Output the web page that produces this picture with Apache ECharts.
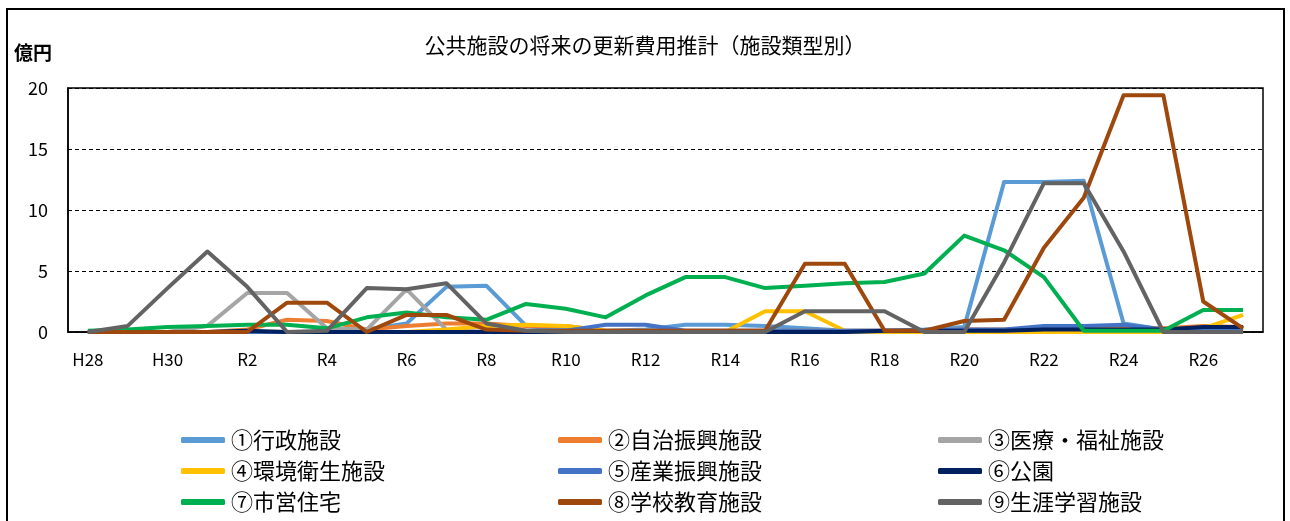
<!DOCTYPE html>
<html>
<head>
<meta charset="utf-8">
<script src="https://cdn.jsdelivr.net/npm/echarts@6/dist/echarts.min.js"></script>
<style>
html,body{margin:0;padding:0;background:#fff;}
#c{width:1290px;height:521px;}
</style>
</head>
<body>
<div id="c"></div>
<script>
const categories = ['H28','H29','H30','R1','R2','R3','R4','R5','R6','R7','R8','R9','R10','R11','R12','R13','R14','R15','R16','R17','R18','R19','R20','R21','R22','R23','R24','R25','R26','R27'];
const yTicks = [0, 5, 10, 15, 20];
const title = '公共施設の将来の更新費用推計（施設類型別）';
const unitLabel = '億円';

const s1_gyosei   = [0,0,0,0,0,0,0,0.2,0.7,3.7,3.8,0.5,0.2,0.1,0.2,0.6,0.6,0.5,0.3,0.1,0.1,0.2,0.4,12.3,12.3,12.4,0.7,0.2,0.3,0.3];
const s2_jichi    = [0,0,0,0,0.2,1.0,0.9,0.2,0.5,0.7,0.7,0.5,0.5,0.1,0.1,0.1,0.1,0.1,0.1,0.1,0.1,0.1,0.2,0.2,0.3,0.3,0.3,0.3,0.5,0.4];
const s3_iryo     = [0,0,0,0.5,3.2,3.2,0.3,0.2,3.5,0.2,0,0,0,0,0,0,0,0,0,0,0,0,0,0,0,0,0,0,0,0];
const s4_kankyo   = [0,0,0,0,0,0,0,0,0,0.2,0.5,0.6,0.5,0.1,0,0,0,1.7,1.7,0.1,0,0,0,0,0,0,0,0,0.3,1.4];
const s5_sangyo   = [0,0,0,0,0,0,0,0,0,0,0,0.1,0.1,0.6,0.6,0.1,0.1,0.1,0.1,0.1,0.1,0.1,0.2,0.2,0.5,0.5,0.6,0.2,0.3,0.3];
const s6_koen     = [0,0,0,0,0.1,0,0,0,0,0,0,0,0,0,0,0,0,0,0,0,0.1,0.1,0.1,0.1,0.2,0.2,0.2,0.2,0.4,0.4];
const s7_shiei    = [0.1,0.2,0.4,0.5,0.6,0.6,0.3,1.2,1.6,1.2,1.0,2.3,1.9,1.2,3.0,4.5,4.5,3.6,3.8,4.0,4.1,4.8,7.9,6.7,4.5,0.1,0.1,0.1,1.8,1.8];
const s8_gakko    = [0,0,0,0,0,2.4,2.4,0,1.4,1.4,0.2,0.1,0.1,0.1,0.1,0.1,0.1,0.1,5.6,5.6,0.1,0.1,0.9,1.0,6.9,11.0,19.4,19.4,2.5,0.3];
const s9_shogai   = [0,0.5,3.6,6.6,3.7,0,0.1,3.6,3.5,4.0,0.7,0.1,0,0,0,0,0,0,1.7,1.7,1.7,0,0,5.7,12.2,12.2,6.6,0,0,0];

const seriesNames = ['①行政施設','②自治振興施設','③医療・福祉施設','④環境衛生施設','⑤産業振興施設','⑥公園','⑦市営住宅','⑧学校教育施設','⑨生涯学習施設'];
const seriesData = [s1_gyosei,s2_jichi,s3_iryo,s4_kankyo,s5_sangyo,s6_koen,s7_shiei,s8_gakko,s9_shogai];
const colors = ['#5B9BD5','#ED7D31','#A5A5A5','#FFC000','#4472C4','#002060','#00B050','#9E480E','#636363'];

const FONT = '"Noto Sans CJK JP", "Noto Sans", sans-serif';
const chart = echarts.init(document.getElementById('c'), null, {renderer:'canvas'});

function legendCol(names, left){
  return {
    orient:'vertical', left:left, top:424,
    itemWidth:44, itemHeight:6, itemGap:9,
    icon:'roundRect',
    data:names,
    textStyle:{fontFamily:FONT, fontSize:22, color:'#000', padding:[0,0,0,1]}
  };
}

chart.setOption({
  animation:false,
  color:colors,
  title:{
    text:title, left:'center', top:30,
    textStyle:{fontFamily:FONT, fontSize:21, fontWeight:'normal', color:'#000'}
  },
  graphic:[
    {type:'rect', shape:{x:7,y:9,width:1277,height:540}, style:{fill:null, stroke:'#000', lineWidth:2}, silent:true},
    {type:'text', left:14, top:43, style:{text:unitLabel, font:'bold 19px ' + FONT, fill:'#000'}}
  ],
  legend:[
    legendCol([seriesNames[0],seriesNames[3],seriesNames[6]], 176),
    legendCol([seriesNames[1],seriesNames[4],seriesNames[7]], 553),
    legendCol([seriesNames[2],seriesNames[5],seriesNames[8]], 933)
  ],
  grid:{left:68, top:88, right:27, bottom:189, show:true, borderColor:'#000', borderWidth:1.5, backgroundColor:'transparent'},
  xAxis:{
    type:'category', data:categories, boundaryGap:true,
    axisLine:{show:true, lineStyle:{color:'#000', width:1.5}},
    axisTick:{show:false},
    axisLabel:{interval:1, fontFamily:FONT, fontSize:17, color:'#000', margin:19}
  },
  yAxis:{
    type:'value', min:yTicks[0], max:yTicks[yTicks.length-1], interval:5,
    axisLine:{show:true, lineStyle:{color:'#000', width:1.5}},
    axisTick:{show:false},
    axisLabel:{fontFamily:FONT, fontSize:18, color:'#000', margin:20},
    splitLine:{show:true, lineStyle:{color:'#000', type:[4,3], width:1}}
  },
  series:seriesNames.map((n,i)=>({
    name:n, type:'line', data:seriesData[i], showSymbol:false, symbol:'none',
    lineStyle:{width:4, color:colors[i], join:'round'},
    itemStyle:{color:colors[i]}
  }))
});
</script>
</body>
</html>
